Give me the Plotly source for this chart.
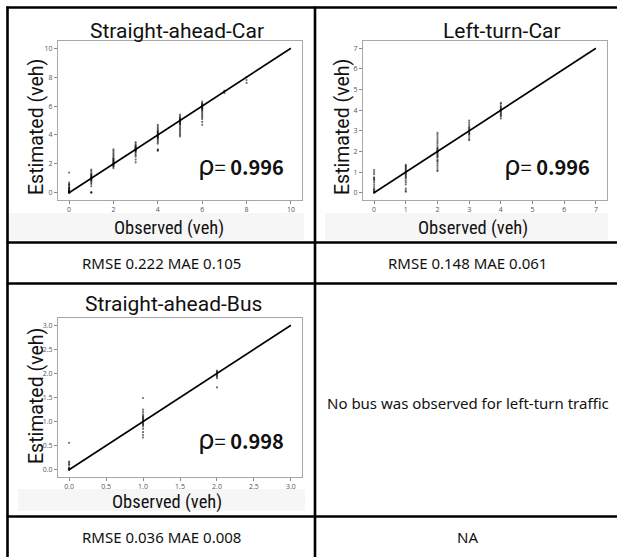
import plotly.graph_objects as go

W, H = 617, 557

# ---------------- data ----------------
# Straight-ahead-Car: estimated values grouped by observed count
sc_obs = [0, 1, 2, 3, 4, 5, 6, 7, 8]
sc_est = [
    [0.0, 0.0, 0.02, 0.03, 0.05, 0.05, 0.08, 0.1, 0.12, 0.15, 0.2, 0.25, 0.3, 0.35, 0.4, 0.5, 0.55, 0.6, 0.7, 1.4],
    [0.0, 0.02, 0.05, 0.45, 0.6, 0.7, 0.8, 0.85, 0.9, 0.95, 1.0, 1.0, 1.05, 1.1, 1.15, 1.2, 1.25, 1.3, 1.4, 1.5, 1.6],
    [1.7, 1.8, 1.85, 1.9, 1.95, 2.0, 2.0, 2.05, 2.1, 2.15, 2.2, 2.25, 2.3, 2.35, 2.4, 2.5, 2.6, 2.7, 2.8, 2.9, 3.0],
    [2.1, 2.3, 2.5, 2.6, 2.7, 2.8, 2.85, 2.9, 2.95, 3.0, 3.0, 3.05, 3.1, 3.15, 3.2, 3.25, 3.3, 3.4, 3.5],
    [2.9, 2.95, 3.0, 3.4, 3.5, 3.6, 3.7, 3.75, 3.8, 3.85, 3.9, 3.95, 4.0, 4.0, 4.05, 4.1, 4.15, 4.2, 4.25, 4.3, 4.4, 4.5, 4.6, 4.7],
    [3.9, 4.0, 4.1, 4.2, 4.3, 4.4, 4.5, 4.6, 4.7, 4.75, 4.8, 4.85, 4.9, 4.95, 5.0, 5.0, 5.05, 5.1, 5.15, 5.2, 5.3, 5.4],
    [4.7, 4.9, 5.1, 5.2, 5.3, 5.4, 5.5, 5.6, 5.7, 5.75, 5.8, 5.85, 5.9, 5.95, 6.0, 6.0, 6.05, 6.1, 6.15, 6.2, 6.3],
    [6.9, 7.0, 7.05],
    [7.6, 7.8, 8.0],
]
# Left-turn-Car
lc_obs = [0, 1, 2, 3, 4]
lc_est = [
    [0.0, 0.0, 0.02, 0.05, 0.1, 0.15, 0.2, 0.3, 0.4, 0.5, 0.6, 0.65, 0.7, 0.75, 0.9, 1.0, 1.1],
    [0.05, 0.1, 0.2, 0.4, 0.5, 0.6, 0.7, 0.75, 0.8, 0.85, 0.9, 0.95, 1.0, 1.0, 1.05, 1.1, 1.15, 1.2, 1.25, 1.3, 1.35],
    [1.05, 1.1, 1.2, 1.3, 1.4, 1.5, 1.55, 1.6, 1.7, 1.75, 1.8, 1.85, 1.9, 1.95, 2.0, 2.0, 2.05, 2.1, 2.15, 2.2, 2.3, 2.4, 2.5, 2.6, 2.7, 2.8, 2.9],
    [2.55, 2.6, 2.7, 2.8, 2.85, 2.9, 2.95, 3.0, 3.0, 3.05, 3.1, 3.15, 3.2, 3.3, 3.4, 3.5],
    [3.6, 3.7, 3.75, 3.8, 3.85, 3.9, 3.95, 4.0, 4.0, 4.05, 4.1, 4.15, 4.2, 4.3, 4.35],
]
# Straight-ahead-Bus
sb_obs = [0, 1, 2]
sb_est = [
    [0.0, 0.0, 0.01, 0.02, 0.03, 0.05, 0.1, 0.12, 0.15, 0.17, 0.56],
    [0.67, 0.72, 0.78, 0.85, 0.9, 0.93, 0.95, 0.97, 1.0, 1.0, 1.02, 1.04, 1.06, 1.08, 1.1, 1.12, 1.15, 1.2, 1.25, 1.49],
    [1.71, 1.9, 1.93, 1.95, 1.97, 2.0, 2.0, 2.02, 2.04, 2.06],
]

diag_max = [10, 7, 3]
titles = ["Straight-ahead-Car", "Left-turn-Car", "Straight-ahead-Bus"]
rho = ["0.996", "0.996", "0.998"]
metrics = ["RMSE 0.222 MAE 0.105", "RMSE 0.148 MAE 0.061", "RMSE 0.036 MAE 0.008", "NA"]
no_bus_text = "No bus was observed for left-turn traffic"
y_label = "Estimated (veh)"
x_label = "Observed (veh)"
car_ticks = [0, 2, 4, 6, 8, 10]
left_ticks = [0, 1, 2, 3, 4, 5, 6, 7]
bus_ticks = [0.0, 0.5, 1.0, 1.5, 2.0, 2.5, 3.0]

# ---------------- helpers ----------------
def PX(x):
    return x / W

def PY(y):
    return 1 - y / H

def flatten(obs, est):
    xs, ys = [], []
    for o, vals in zip(obs, est):
        xs += [o] * len(vals)
        ys += vals
    return xs, ys

fig = go.Figure()

panels = [
    dict(obs=sc_obs, est=sc_est, dmax=diag_max[0], ticks=car_ticks, fmt="d",
         box=(58, 302, 41, 200)),
    dict(obs=lc_obs, est=lc_est, dmax=diag_max[1], ticks=left_ticks, fmt="d",
         box=(363, 607, 41, 200)),
    dict(obs=sb_obs, est=sb_est, dmax=diag_max[2], ticks=bus_ticks, fmt=".1f",
         box=(58, 302, 318, 477)),
]

layout_axes = {}
for i, p in enumerate(panels):
    n = i + 1
    xa = "x" if n == 1 else f"x{n}"
    ya = "y" if n == 1 else f"y{n}"
    xs, ys = flatten(p["obs"], p["est"])
    fig.add_trace(go.Scatter(x=[0, p["dmax"]], y=[0, p["dmax"]], mode="lines",
                             line=dict(color="black", width=1.6),
                             xaxis=xa, yaxis=ya, showlegend=False))
    fig.add_trace(go.Scatter(x=xs, y=ys, mode="markers",
                             marker=dict(color="rgba(0,0,0,0.55)", size=2.2),
                             xaxis=xa, yaxis=ya, showlegend=False))
    l, r, t, b = p["box"]
    pad = 0.05 * p["dmax"]
    common = dict(showgrid=False, zeroline=False, showline=True, mirror=True,
                  linecolor="#a8a8a8", linewidth=1, ticks="outside", ticklen=3,
                  tickwidth=1, tickcolor="#888", tickfont=dict(size=7, color="#555"),
                  tickvals=p["ticks"], tickformat=p["fmt"],
                  range=[-pad, p["dmax"] + pad])
    layout_axes["xaxis" if n == 1 else f"xaxis{n}"] = dict(
        domain=[PX(l), PX(r)], anchor=ya, **common)
    layout_axes["yaxis" if n == 1 else f"yaxis{n}"] = dict(
        domain=[PY(b), PY(t)], anchor=xa, **common)

fig.update_layout(**layout_axes)

# ---------------- shapes (image bands + table grid) ----------------
shapes = []
bands = [(8, 304, 213, 240), (325, 608, 213, 240), (18, 305, 489, 511)]
for x0, x1, y0, y1 in bands:
    shapes.append(dict(type="rect", xref="paper", yref="paper", layer="below",
                       x0=PX(x0), x1=PX(x1), y0=PY(y0), y1=PY(y1),
                       fillcolor="#f6f6f6", line=dict(width=0)))
lw = 2.6
grid_lines = [
    (7.5, 7.5, 6.5, 557),      # left border
    (315, 315, 6.5, 557),      # middle divider
]
for x0, x1, y0, y1 in grid_lines:
    shapes.append(dict(type="line", xref="paper", yref="paper", layer="above",
                       x0=PX(x0), x1=PX(x1), y0=PY(y0), y1=PY(y1),
                       line=dict(color="black", width=lw)))
for yy in [7.5, 242.5, 283.5, 516.5]:
    shapes.append(dict(type="line", xref="paper", yref="paper", layer="above",
                       x0=PX(6.5), x1=PX(617), y0=PY(yy), y1=PY(yy),
                       line=dict(color="black", width=lw)))

# ---------------- annotations ----------------
ann = []
title_pos = [(177, 31), (502, 31), (174, 304)]
ylab_pos = [(36, 127), (342, 127), (36, 396)]
xlab_pos = [(169, 228), (473, 228), (167, 502)]
rho_pos = [(196, 163), (502, 163), (196, 437)]
for i in range(3):
    tx, ty = title_pos[i]
    ann.append(dict(text=titles[i], x=PX(tx), y=PY(ty), xref="paper", yref="paper",
                    showarrow=False, xanchor="center", yanchor="middle",
                    font=dict(family="Roboto", size=21, color="#111")))
    lx, ly = ylab_pos[i]
    ann.append(dict(text=y_label, x=PX(lx), y=PY(ly), xref="paper", yref="paper",
                    showarrow=False, xanchor="center", yanchor="middle", textangle=-90,
                    font=dict(family="Roboto", size=19.5, color="#111")))
    lx, ly = xlab_pos[i]
    ann.append(dict(text=x_label, x=PX(lx), y=PY(ly), xref="paper", yref="paper",
                    showarrow=False, xanchor="center", yanchor="middle",
                    borderpad=0,
                    font=dict(family="Liberation Sans Narrow, Roboto Condensed, Roboto",
                              size=18.5, color="#111")))
    rx, ry = rho_pos[i]
    ann.append(dict(text="<span style='font-size:27px'>ρ</span>= <b>" + rho[i] + "</b>",
                    x=PX(rx), y=PY(ry), xref="paper", yref="paper",
                    showarrow=False, xanchor="left", yanchor="middle",
                    font=dict(family="Noto Sans CJK KR", size=20, color="#111")))

metric_pos = [(161, 263), (467, 263), (161, 537), (467, 537)]
for txt, (mx, my) in zip(metrics, metric_pos):
    ann.append(dict(text=txt, x=PX(mx), y=PY(my), xref="paper", yref="paper",
                    showarrow=False, xanchor="center", yanchor="middle",
                    font=dict(family="Noto Sans", size=15, color="#111")))
ann.append(dict(text=no_bus_text, x=PX(468), y=PY(403), xref="paper", yref="paper",
                showarrow=False, xanchor="center", yanchor="middle",
                font=dict(family="Noto Sans", size=15, color="#111")))

fig.update_layout(width=W, height=H, margin=dict(l=0, r=0, t=0, b=0),
                  paper_bgcolor="white", plot_bgcolor="white",
                  shapes=shapes, annotations=ann, showlegend=False)

fig.write_html("out.html")
